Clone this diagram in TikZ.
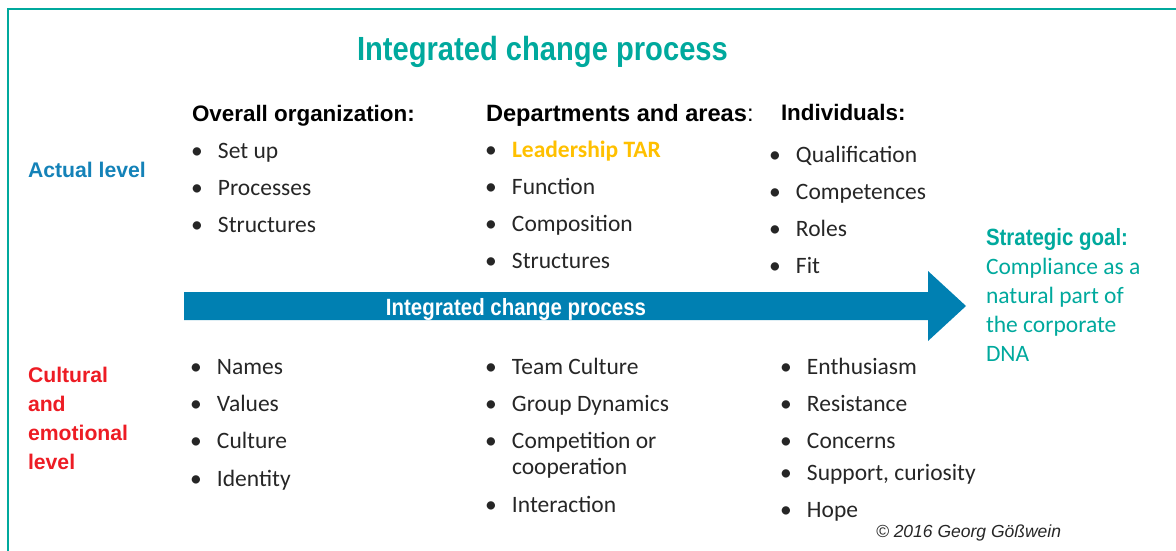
\documentclass[tikz,border=0pt]{standalone}
\usepackage{fontspec}
\setmainfont{Carlito}
\newfontfamily\arialfont{Liberation Sans}
\newfontfamily\narrowfont[FakeStretch=0.87]{Liberation Sans}

\definecolor{frameteal}{HTML}{00A99D}
\definecolor{actualblue}{HTML}{1482B8}
\definecolor{arrowblue}{HTML}{0080B2}
\definecolor{culturered}{HTML}{ED1C24}
\definecolor{leadgold}{HTML}{FFC000}
\definecolor{bodytext}{HTML}{262626}

% bullet hanging to the left of an item
\newcommand\bul{\llap{\makebox[27pt][l]{•}}}

\begin{document}
\begin{tikzpicture}[x=1pt,y=-1pt,
  every node/.style={inner sep=0pt,outer sep=0pt},
  titletext/.style={anchor=base west,text=frameteal,
    font=\narrowfont\bfseries\fontsize{33.5}{40}\selectfont},
  colhead/.style={anchor=base west,text=black,
    font=\arialfont\bfseries\fontsize{22.4}{26}\selectfont},
  leveltext/.style={anchor=base west,align=left,
    font=\arialfont\bfseries\fontsize{21.2}{29}\selectfont},
  item/.style={anchor=base west,align=left,text=bodytext,
    font=\fontsize{23.5}{26}\selectfont},
  goalhead/.style={anchor=base west,text=frameteal,
    font=\narrowfont\bfseries\fontsize{23.5}{28}\selectfont},
  goaltext/.style={anchor=base west,align=left,text=frameteal,
    font=\fontsize{23.5}{29}\selectfont},
  arrowlabel/.style={anchor=base,text=white,
    font=\narrowfont\bfseries\fontsize{23.5}{28}\selectfont},
  copyright/.style={anchor=base west,text=black!85,
    font=\arialfont\itshape\fontsize{17.5}{20}\selectfont}]

\useasboundingbox (0,0) rectangle (1176,550);

% frame
\draw[frameteal,line width=2pt] (8,551) -- (8,9) -- (1177,9);

% title
\node[titletext] (title) at (357,60) {Integrated change process};

% row labels (multi-line nodes sit on the baseline of their last line)
\node[leveltext,text=actualblue] (actual) at (28,177) {Actual level};
\node[leveltext,text=culturered] (cultural) at (28,469) {Cultural\\and\\emotional\\level};

% column heads
\node[colhead] (hOrg) at (192,121) {Overall organization:};
\node[colhead,font=\arialfont\bfseries\fontsize{23.6}{26}\selectfont]
  (hDep) at (486,121) {Departments and areas{\mdseries:}};
\node[colhead] (hInd) at (781,120) {Individuals:};

% overall organization, actual level
\node[item] (o1) at (218,158) {\bul Set up};
\node[item] (o2) at (218,195) {\bul Processes};
\node[item] (o3) at (218,232) {\bul Structures};

% departments, actual level
\node[item] (d1) at (512,157) {\bul\textcolor{leadgold}{\bfseries Leadership TAR}};
\node[item] (d2) at (512,194) {\bul Function};
\node[item] (d3) at (512,231) {\bul Composition};
\node[item] (d4) at (512,268) {\bul Structures};

% individuals, actual level
\node[item] (i1) at (796,162) {\bul Qualification};
\node[item] (i2) at (796,199) {\bul Competences};
\node[item] (i3) at (796,236) {\bul Roles};
\node[item] (i4) at (796,273) {\bul Fit};

% process arrow
\fill[arrowblue] (184,292) -- (928,292) -- (928,271) -- (966,306)
  -- (928,341) -- (928,320) -- (184,320) -- cycle;
\node[arrowlabel] (arrowtext) at (516,315) {Integrated change process};

% strategic goal
\node[goalhead] (goal) at (986,245) {Strategic goal:};
\node[goaltext] (goaltxt) at (986,361) {Compliance as a\\natural part of\\the corporate\\DNA};

% overall organization, cultural level
\node[item] (c1) at (217,374) {\bul Names};
\node[item] (c2) at (217,411) {\bul Values};
\node[item] (c3) at (217,448) {\bul Culture};
\node[item] (c4) at (217,486) {\bul Identity};

% departments, cultural level
\node[item] (e1) at (512,374) {\bul Team Culture};
\node[item] (e2) at (512,411) {\bul Group Dynamics};
\node[item] (e3) at (512,474) {\bul Competition or\\cooperation};
\node[item] (e4) at (512,512) {\bul Interaction};

% individuals, cultural level
\node[item] (f1) at (807,374) {\bul Enthusiasm};
\node[item] (f2) at (807,411) {\bul Resistance};
\node[item] (f3) at (807,448) {\bul Concerns};
\node[item] (f4) at (807,480) {\bul Support, curiosity};
\node[item] (f5) at (807,517) {\bul Hope};

% copyright
\node[copyright] (copy) at (876,537) {© 2016 Georg Gößwein};
\end{tikzpicture}
\end{document}
